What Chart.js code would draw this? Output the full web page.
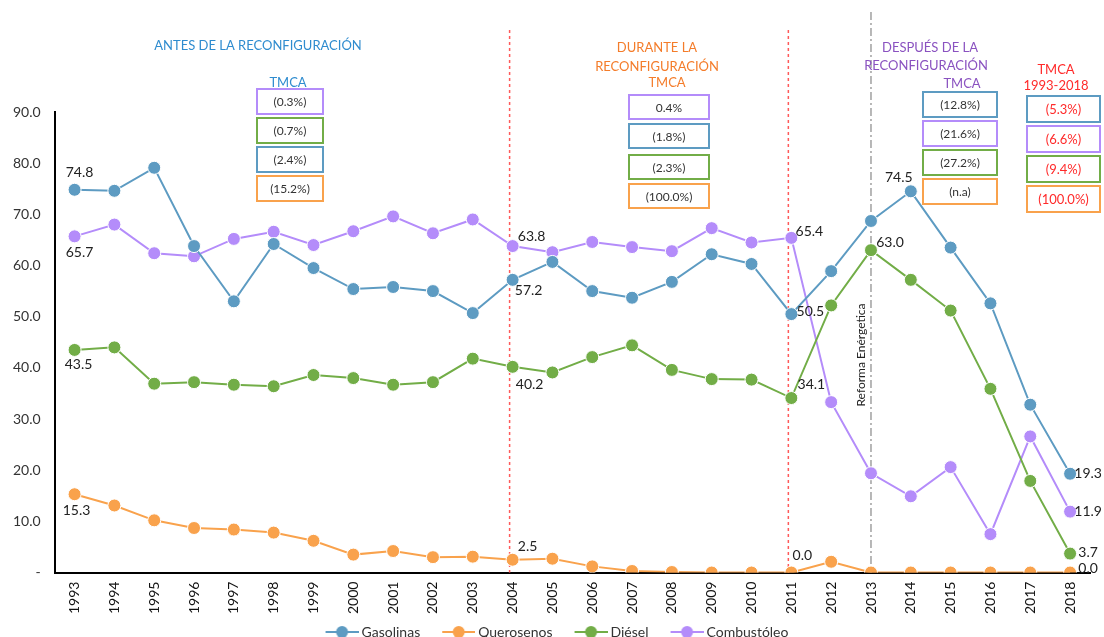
<!DOCTYPE html>
<html>
<head>
<meta charset="utf-8">
<script src="https://cdn.jsdelivr.net/npm/chart.js@4"></script>
<style>
  html, body { margin: 0; padding: 0; background: #fff; }
  #wrap { width: 1104px; height: 637px; position: relative; }
</style>
</head>
<body>
<div id="wrap"><canvas id="chart"></canvas></div>
<script>
var years = ['1993','1994','1995','1996','1997','1998','1999','2000','2001','2002','2003','2004','2005',
             '2006','2007','2008','2009','2010','2011','2012','2013','2014','2015','2016','2017','2018']

var gasolinas = [74.8, 74.6, 79.1, 63.8, 53.0, 64.2, 59.5, 55.4, 55.8, 55.0, 50.7, 57.2, 60.7,
                 55.0, 53.7, 56.8, 62.2, 60.3, 50.5, 58.9, 68.7, 74.5, 63.5, 52.6, 32.8, 19.3]

var querosenos = [15.3, 13.1, 10.2, 8.7, 8.4, 7.8, 6.2, 3.5, 4.2, 3.0, 3.1, 2.5, 2.7,
                  1.2, 0.3, 0.1, 0.0, 0.0, 0.0, 2.1, 0.0, 0.0, 0.0, 0.0, 0.0, 0.0]

var diesel = [43.5, 44.0, 36.9, 37.2, 36.7, 36.4, 38.6, 38.0, 36.7, 37.2, 41.8, 40.2, 39.1,
              42.1, 44.4, 39.6, 37.8, 37.7, 34.1, 52.2, 63.0, 57.2, 51.2, 35.9, 17.9, 3.7]

var combustoleo = [65.7, 68.0, 62.4, 61.8, 65.2, 66.6, 64.0, 66.7, 69.6, 66.3, 69.0, 63.8, 62.6,
                   64.6, 63.6, 62.8, 67.3, 64.5, 65.4, 33.3, 19.4, 14.9, 20.6, 7.5, 26.6, 11.9]

var seriesNames = ['Gasolinas', 'Querosenos', 'Diésel', 'Combustóleo']
var seriesColors = ['#5d9bc2', '#f9a24c', '#72ad47', '#b48cfa']

// TMCA boxes: [text, colour index]
var tmcaAntes = [['(0.3%)', 3], ['(0.7%)', 2], ['(2.4%)', 0], ['(15.2%)', 1]]
var tmcaDurante = [['0.4%', 3], ['(1.8%)', 0], ['(2.3%)', 2], ['(100.0%)', 1]]
var tmcaDespues = [['(12.8%)', 0], ['(21.6%)', 3], ['(27.2%)', 2], ['(n.a)', 1]]
var tmcaTotal = [['(5.3%)', 0], ['(6.6%)', 3], ['(9.4%)', 2], ['(100.0%)', 1]]

// point labels: [dataset, index, dx, dy]
var pointLabels = [
  [0, 0, 5, -17], [3, 0, 5, 16], [2, 0, 4, 15], [1, 0, 2, 16],
  [3, 11, 19, -10], [0, 11, 16, 11], [2, 11, 17, 18], [1, 11, 15, -13],
  [3, 18, 18, -6], [0, 18, 19, -3], [2, 18, 20, -14], [1, 18, 11, -17],
  [0, 21, -12, -14], [2, 20, 19, -8],
  [0, 25, 18, 0], [3, 25, 18, 0], [2, 25, 18, -1], [1, 25, 18, -4]
]

var FONT = 'Lato, "Open Sans", sans-serif'

// legend icon: line with a dot, padded on the left so items get spaced out
function legendIcon(color) {
  var c = document.createElement('canvas')
  c.width = 57; c.height = 14
  var g = c.getContext('2d')
  g.strokeStyle = color; g.lineWidth = 2
  g.beginPath(); g.moveTo(24, 7); g.lineTo(57, 7); g.stroke()
  g.fillStyle = color
  g.beginPath(); g.arc(40.5, 7, 6, 0, Math.PI * 2); g.fill()
  return c
}

function drawBoxes(ctx, list, x, y0, w, h, gaps, textColor) {
  var y = y0
  list.forEach(function (b, i) {
    ctx.strokeStyle = seriesColors[b[1]]
    ctx.lineWidth = 2
    ctx.strokeRect(x, y, w, h)
    ctx.fillStyle = textColor || '#333'
    ctx.fillText(b[0], x + w / 2, y + h / 2 + 1)
    y += h + (gaps[i] || 4)
  })
}

var annotations = {
  id: 'annotations',
  beforeDatasetsDraw: function (chart) {
    var ctx = chart.ctx, xs = chart.scales.x, ys = chart.scales.y
    var bottom = ys.getPixelForValue(0)
    ctx.save()
    ctx.lineWidth = 1.5
    ctx.strokeStyle = '#ff5a5a'
    ctx.setLineDash([3, 3])
    ;[11, 18].forEach(function (i) {
      var x = xs.getPixelForValue(i) - 3
      ctx.beginPath(); ctx.moveTo(x, 30); ctx.lineTo(x, bottom); ctx.stroke()
    })
    ctx.strokeStyle = '#a0a0a0'
    ctx.setLineDash([8, 3, 2, 3])
    var xr = xs.getPixelForValue(20)
    ctx.beginPath(); ctx.moveTo(xr, 12); ctx.lineTo(xr, bottom); ctx.stroke()
    ctx.restore()
  },
  afterDatasetsDraw: function (chart) {
    var ctx = chart.ctx
    ctx.save()
    ctx.textAlign = 'center'
    ctx.textBaseline = 'middle'
    ctx.font = '13px ' + FONT

    ctx.fillStyle = '#2f8ccf'
    ctx.fillText('ANTES DE LA RECONFIGURACIÓN', 258, 46)
    ctx.fillText('TMCA', 288, 83)

    ctx.fillStyle = '#f47c2a'
    ctx.fillText('DURANTE LA', 657, 48)
    ctx.fillText('RECONFIGURACIÓN', 657, 67)
    ctx.fillText('TMCA', 667, 83)

    ctx.fillStyle = '#8a52c0'
    ctx.fillText('DESPUÉS DE LA', 930, 48)
    ctx.fillText('RECONFIGURACIÓN', 926, 66)
    ctx.fillText('TMCA', 962, 84)

    ctx.fillStyle = '#ff2a2a'
    ctx.fillText('TMCA', 1056, 70)
    ctx.fillText('1993-2018', 1056, 86)

    ctx.font = '12px ' + FONT
    drawBoxes(ctx, tmcaAntes, 257, 89, 66, 25, [4, 4, 4])
    drawBoxes(ctx, tmcaDurante, 629, 95, 80, 24, [5, 7, 5])
    drawBoxes(ctx, tmcaDespues, 923, 92, 74, 25, [4, 4, 4])
    ctx.font = '13px ' + FONT
    drawBoxes(ctx, tmcaTotal, 1027, 96, 73, 26, [4, 4, 4], '#ff2a2a')

    // Reforma Energética
    ctx.save()
    ctx.translate(861, 355)
    ctx.rotate(-Math.PI / 2)
    ctx.fillStyle = '#222'
    ctx.font = '12px ' + FONT
    ctx.fillText('Reforma Enérgetica', 0, 0)
    ctx.restore()

    // point value labels
    ctx.font = '14px ' + FONT
    ctx.fillStyle = '#222'
    pointLabels.forEach(function (p) {
      var el = chart.getDatasetMeta(p[0]).data[p[1]]
      var v = chart.data.datasets[p[0]].data[p[1]]
      ctx.fillText(v.toFixed(1), el.x + p[2], el.y + p[3])
    })
    ctx.restore()
  }
}

function makeSet(i, data) {
  return {
    label: seriesNames[i],
    data: data,
    borderColor: seriesColors[i],
    backgroundColor: seriesColors[i],
    pointBackgroundColor: seriesColors[i],
    pointBorderColor: '#ffffff',
    pointBorderWidth: 1,
    pointRadius: 6.5,
    borderWidth: 2,
    tension: 0
  }
}

var chart = new Chart(document.getElementById('chart'), {
  type: 'line',
  data: {
    labels: years,
    datasets: [makeSet(0, gasolinas), makeSet(1, querosenos), makeSet(2, diesel), makeSet(3, combustoleo)]
  },
  options: {
    responsive: true,
    maintainAspectRatio: false,
    animation: false,
    layout: { padding: { top: 112, right: 14, left: 4, bottom: -12 } },
    plugins: {
      tooltip: { enabled: false },
      legend: {
        position: 'bottom',
        labels: {
          color: '#333',
          font: { family: FONT, size: 14 },
          usePointStyle: true,
          pointStyleWidth: 49,
          padding: 2,
          generateLabels: function (chart) {
            return chart.data.datasets.map(function (ds, i) {
              return {
                text: ds.label,
                fillStyle: ds.borderColor,
                strokeStyle: ds.borderColor,
                pointStyle: legendIcon(ds.borderColor),
                datasetIndex: i,
                fontColor: '#333'
              }
            })
          }
        }
      }
    },
    scales: {
      x: {
        offset: true,
        grid: { display: false, drawTicks: false },
        border: { display: true, color: '#000', width: 2 },
        ticks: {
          color: '#111',
          font: { family: FONT, size: 14 },
          maxRotation: 90,
          minRotation: 90,
          padding: 9,
          autoSkip: false
        }
      },
      y: {
        min: 0,
        max: 90,
        grid: { display: false, drawTicks: true, tickLength: 5, tickColor: '#000' },
        border: { display: true, color: '#000', width: 2 },
        ticks: {
          stepSize: 10,
          color: '#333',
          font: { family: FONT, size: 14 },
          padding: 9,
          crossAlign: 'near',
          callback: function (v) { return v === 0 ? '-' : v.toFixed(1) }
        }
      }
    }
  },
  plugins: [annotations]
})
</script>
</body>
</html>
